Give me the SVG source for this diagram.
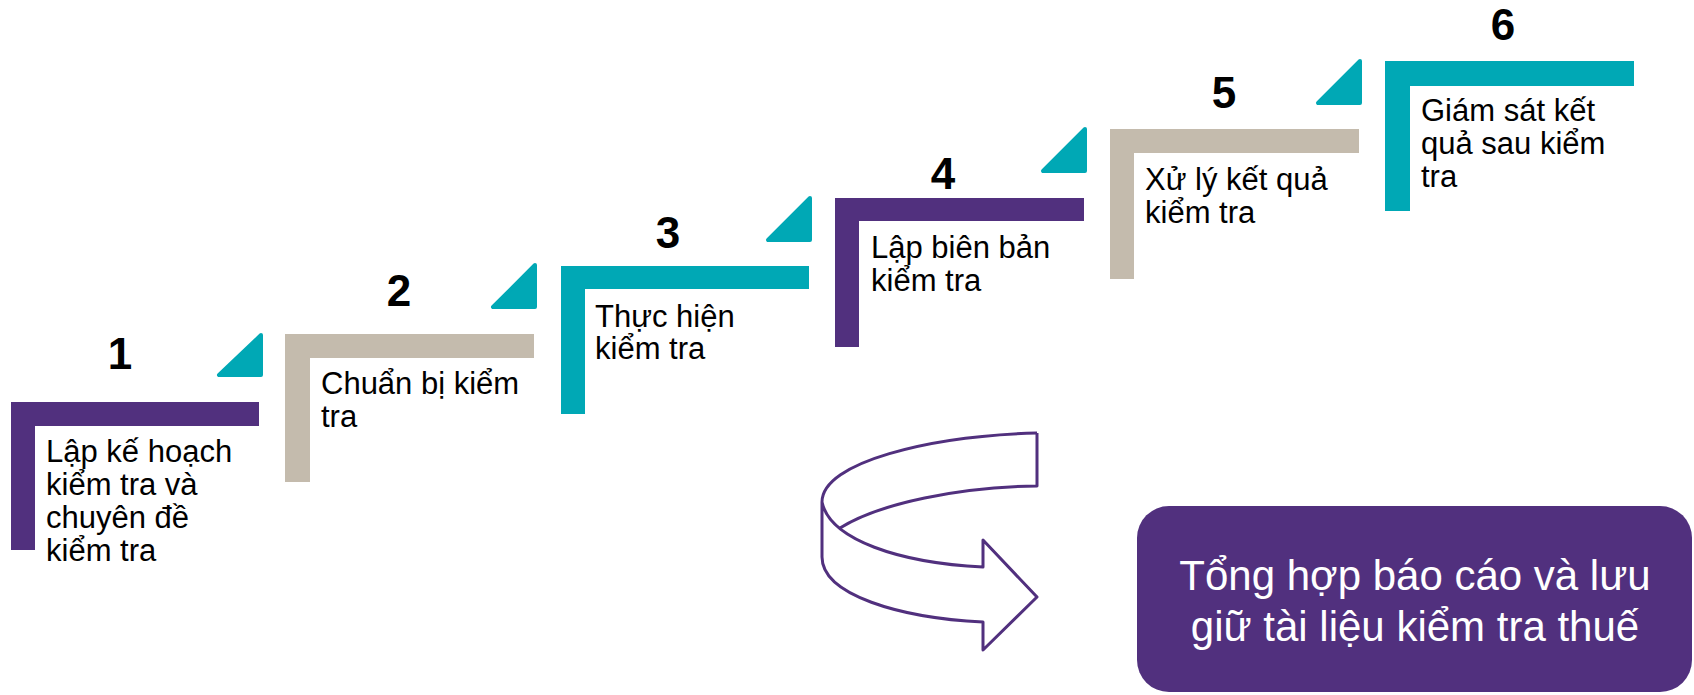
<svg xmlns="http://www.w3.org/2000/svg" width="1694" height="695" viewBox="0 0 1694 695">
<style>
.purple{fill:#51307E}
.teal{fill:#00A8B5}
.beige{fill:#C4BBAD}
.tri{fill:#00A8B5;stroke:#00A8B5;stroke-width:4;stroke-linejoin:round}
.num{font-family:"Liberation Sans",Arial,sans-serif;font-weight:bold;font-size:44px;fill:#000;text-anchor:middle}
.lbl{font-family:"Liberation Sans",Arial,sans-serif;font-size:31px;fill:#000}
.box{font-family:"Liberation Sans",Arial,sans-serif;font-size:42px;fill:#fff;text-anchor:middle}
.arrow{fill:none;stroke:#51307E;stroke-width:3;stroke-linejoin:round}
</style>
<g id="step1">
<path class="purple" d="M11,402 H259 V426 H35 V550 H11 Z"/>
<polygon class="tri" points="261,335 219,375 261,375"/>
<text class="num" x="120" y="369">1</text>
<text class="lbl" x="46" y="462">Lập kế hoạch</text>
<text class="lbl" x="46" y="495">kiểm tra và</text>
<text class="lbl" x="46" y="528">chuyên đề</text>
<text class="lbl" x="46" y="561">kiểm tra</text>
</g>
<g id="step2">
<path class="beige" d="M285,334 H534 V358 H310 V482 H285 Z"/>
<polygon class="tri" points="535,265 493,307 535,307"/>
<text class="num" x="399" y="306">2</text>
<text class="lbl" x="321" y="394">Chuẩn bị kiểm</text>
<text class="lbl" x="321" y="427">tra</text>
</g>
<g id="step3">
<path class="teal" d="M561,266 H809 V289 H585 V414 H561 Z"/>
<polygon class="tri" points="810,198 768,240 810,240"/>
<text class="num" x="668" y="248">3</text>
<text class="lbl" x="595" y="327">Thực hiện</text>
<text class="lbl" x="595" y="359">kiểm tra</text>
</g>
<g id="step4">
<path class="purple" d="M835,198 H1084 V221 H859 V347 H835 Z"/>
<polygon class="tri" points="1085,129 1043,171 1085,171"/>
<text class="num" x="943" y="189">4</text>
<text class="lbl" x="871" y="258">Lập biên bản</text>
<text class="lbl" x="871" y="291">kiểm tra</text>
</g>
<g id="step5">
<path class="beige" d="M1110,129 H1359 V153 H1134 V279 H1110 Z"/>
<polygon class="tri" points="1360,61 1318,103 1360,103"/>
<text class="num" x="1224" y="108">5</text>
<text class="lbl" x="1145" y="190">Xử lý kết quả</text>
<text class="lbl" x="1145" y="223">kiểm tra</text>
</g>
<g id="step6">
<path class="teal" d="M1385,61 H1634 V86 H1410 V211 H1385 Z"/>
<text class="num" x="1503" y="40">6</text>
<text class="lbl" x="1421" y="121">Giám sát kết</text>
<text class="lbl" x="1421" y="154">quả sau kiểm</text>
<text class="lbl" x="1421" y="187">tra</text>
</g>
<g id="connectors">
<path class="arrow" d="M1037,433 C930,436 822,462 822,502 L822,557 C822,595 900,618 983,622 L983,650 L1037,597 L983,540 L983,567 C900,563 830,540 822,502"/>
<path class="arrow" d="M1037,433 L1037,486 C960,487 880,503 840,528"/>
</g>
<g id="summary">
<rect x="1137" y="506" width="555" height="186" rx="32" ry="32" class="purple"/>
<text class="box" x="1415" y="590">Tổng hợp báo cáo và lưu</text>
<text class="box" x="1415" y="641">giữ tài liệu kiểm tra thuế</text>
</g>
</svg>
